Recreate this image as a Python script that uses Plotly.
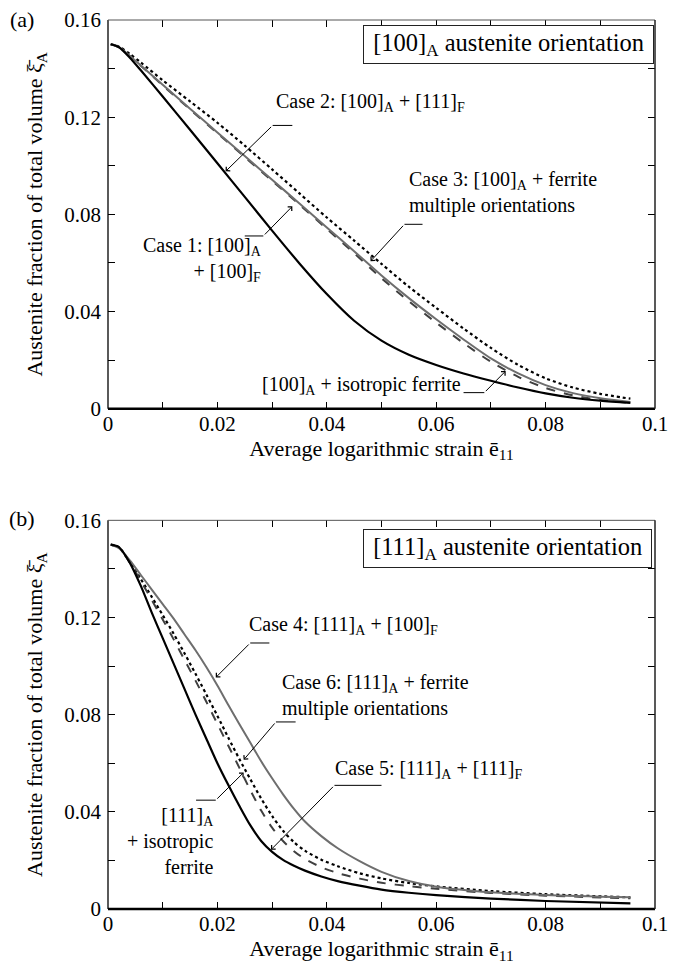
import plotly.graph_objects as go

# ---------------- data : panel (a) [100]A austenite ----------------
xa = [0.0005, 0.002, 0.004, 0.006, 0.01, 0.015, 0.02, 0.025, 0.03, 0.035, 0.04, 0.045,
      0.05, 0.055, 0.06, 0.065, 0.07, 0.075, 0.08, 0.085, 0.09, 0.0955]
a_case2 = [0.1500, 0.1488, 0.1445, 0.1393, 0.1285, 0.1148, 0.1010, 0.0872, 0.0733, 0.0598, 0.0472, 0.0362,
           0.0280, 0.0222, 0.0180, 0.0145, 0.0115, 0.0087, 0.0063, 0.0045, 0.0033, 0.0024]
a_case1 = [0.1500, 0.1488, 0.1452, 0.1413, 0.1333, 0.1235, 0.1137, 0.1040, 0.0942, 0.0845, 0.0746, 0.0648,
           0.0548, 0.0455, 0.0368, 0.0285, 0.0207, 0.0145, 0.0097, 0.0064, 0.0043, 0.0028]
a_iso = [0.1500, 0.1488, 0.1452, 0.1412, 0.1331, 0.1232, 0.1134, 0.1036, 0.0938, 0.0840, 0.0740, 0.0640,
         0.0537, 0.0442, 0.0354, 0.0270, 0.0193, 0.0131, 0.0085, 0.0055, 0.0036, 0.0024]
a_case3 = [0.1500, 0.1490, 0.1460, 0.1425, 0.1352, 0.1265, 0.1177, 0.1083, 0.0985, 0.0886, 0.0787, 0.0692,
           0.0596, 0.0502, 0.0415, 0.0330, 0.0250, 0.0180, 0.0125, 0.0087, 0.0061, 0.0041]

# ---------------- data : panel (b) [111]A austenite ----------------
xb = [0.0005, 0.002, 0.004, 0.006, 0.008, 0.010, 0.012, 0.014, 0.016, 0.018, 0.020, 0.022,
      0.024, 0.026, 0.028, 0.030, 0.032, 0.034, 0.036, 0.039, 0.042, 0.046, 0.050, 0.055,
      0.060, 0.070, 0.080, 0.0955]
b_case5 = [0.1500, 0.1490, 0.1425, 0.1330, 0.1220, 0.1115, 0.1010, 0.0905, 0.0800, 0.0700, 0.0600, 0.0510,
           0.0425, 0.0345, 0.0280, 0.0235, 0.0202, 0.0178, 0.0158, 0.0134, 0.0115, 0.0096, 0.0080, 0.0067,
           0.0057, 0.0043, 0.0033, 0.0023]
b_case4 = [0.1500, 0.1485, 0.1435, 0.1375, 0.1315, 0.1255, 0.1195, 0.1130, 0.1065, 0.0995, 0.0920, 0.0840,
           0.0762, 0.0685, 0.0608, 0.0538, 0.0472, 0.0412, 0.0360, 0.0300, 0.0250, 0.0197, 0.0153, 0.0115,
           0.0092, 0.0069, 0.0058, 0.0048]
b_iso = [0.1500, 0.1488, 0.1425, 0.1350, 0.1272, 0.1192, 0.1110, 0.1025, 0.0940, 0.0852, 0.0762, 0.0672,
         0.0582, 0.0490, 0.0405, 0.0335, 0.0280, 0.0238, 0.0206, 0.0172, 0.0148, 0.0125, 0.0108, 0.0094,
         0.0083, 0.0066, 0.0055, 0.0044]
b_case6 = [0.1500, 0.1488, 0.1428, 0.1358, 0.1285, 0.1210, 0.1133, 0.1052, 0.0968, 0.0882, 0.0795, 0.0705,
           0.0618, 0.0535, 0.0455, 0.0383, 0.0322, 0.0275, 0.0240, 0.0203, 0.0176, 0.0147, 0.0126, 0.0107,
           0.0093, 0.0074, 0.0061, 0.0048]

x_major = [0, 0.02, 0.04, 0.06, 0.08, 0.1]
x_labels = ["0", "0.02", "0.04", "0.06", "0.08", "0.1"]
x_minor = [0.01, 0.03, 0.05, 0.07, 0.09]
y_major = [0, 0.04, 0.08, 0.12, 0.16]
y_labels = ["0", "0.04", "0.08", "0.12", "0.16"]
y_minor = [0.02, 0.06, 0.10, 0.14]

FONT = "Liberation Serif, DejaVu Serif, serif"
GRAY = "#6e6e6e"
DGRAY = "#404040"

fig = go.Figure()

def add_line(x, y, xa_, ya_, color, width, dash):
    fig.add_trace(go.Scatter(x=x, y=y, xaxis=xa_, yaxis=ya_, mode="lines",
                             line=dict(color=color, width=width, dash=dash, shape="spline", smoothing=0.8),
                             showlegend=False, hoverinfo="skip"))

# panel (a)
add_line(xa, a_case3, "x", "y", "black", 2.2, "dot")
add_line(xa, a_iso, "x", "y", DGRAY, 2, "dash")
add_line(xa, a_case1, "x", "y", GRAY, 2, "solid")
add_line(xa, a_case2, "x", "y", "black", 2.2, "solid")
# panel (b)
add_line(xb, b_case6, "x2", "y2", "black", 2.2, "dot")
add_line(xb, b_iso, "x2", "y2", DGRAY, 2, "dash")
add_line(xb, b_case4, "x2", "y2", GRAY, 2, "solid")
add_line(xb, b_case5, "x2", "y2", "black", 2.2, "solid")

xtitle = "Average logarithmic strain ē<sub>11</sub>"
ytitle = "Austenite fraction of total volume ξ̄<sub>A</sub>"

common_x = dict(range=[0, 0.1], tickvals=x_major, ticktext=x_labels,
                ticks="inside", ticklen=7, tickwidth=1, tickcolor="black",
                minor=dict(tickvals=x_minor, ticks="inside", ticklen=7, tickwidth=1, tickcolor="black"),
                mirror="ticks", showline=False, showgrid=False, zeroline=False,
                tickfont=dict(family=FONT, size=21, color="black"),
                ticklabelstandoff=0, ticklabeloverflow="allow",
                title=dict(text=xtitle, font=dict(family=FONT, size=22, color="black"), standoff=1))
common_y = dict(range=[0, 0.16], tickvals=y_major, ticktext=y_labels,
                ticks="inside", ticklen=7, tickwidth=1, tickcolor="black",
                minor=dict(tickvals=y_minor, ticks="inside", ticklen=7, tickwidth=1, tickcolor="black"),
                mirror="ticks", showline=False, showgrid=False, zeroline=False,
                tickfont=dict(family=FONT, size=21, color="black"),
                ticklabelstandoff=6, ticklabeloverflow="allow",
                title=dict(text=ytitle, font=dict(family=FONT, size=22, color="black"), standoff=15))

fig.update_layout(
    width=676, height=979,
    margin=dict(l=108, r=8, t=10, b=70),
    paper_bgcolor="white", plot_bgcolor="white",
    font=dict(family=FONT, color="black"),
    xaxis=dict(domain=[0, 1], anchor="y", **common_x),
    yaxis=dict(domain=[0.5628, 1], anchor="x", **common_y),
    xaxis2=dict(domain=[0, 1], anchor="y2", **common_x),
    yaxis2=dict(domain=[0, 0.4372], anchor="x2", **common_y),
)

# frame lines
for xr, yr in (("x domain", "y domain"), ("x2 domain", "y2 domain")):
    fig.add_shape(type="line", xref=xr, yref=yr, x0=0, x1=1, y0=0, y1=0, line=dict(color="black", width=2.5))
    fig.add_shape(type="line", xref=xr, yref=yr, x0=0, x1=0, y0=0, y1=1, line=dict(color="black", width=1.3))
    fig.add_shape(type="line", xref=xr, yref=yr, x0=0, x1=1, y0=1, y1=1, line=dict(color="#555555", width=1))
    fig.add_shape(type="line", xref=xr, yref=yr, x0=1, x1=1, y0=0, y1=1, line=dict(color="#222222", width=1.5))


def label(text, x, y, xr, yr, xanchor="left", size=20, align="left", **kw):
    fig.add_annotation(text=text, x=x, y=y, xref=xr, yref=yr, xanchor=xanchor, yanchor="middle",
                       showarrow=False, align=align, font=dict(family=FONT, size=size, color="black"), **kw)


def leader(hx0, hx1, hy, tipx, tipy, xr, yr, startx):
    fig.add_shape(type="line", xref=xr, yref=yr, x0=hx0, x1=hx1, y0=hy, y1=hy,
                  line=dict(color="black", width=1))
    fig.add_annotation(x=tipx, y=tipy, ax=startx, ay=hy, xref=xr, yref=yr, axref=xr, ayref=yr,
                       text="", showarrow=True, arrowhead=4, arrowsize=1.1, arrowwidth=1,
                       arrowcolor="black", standoff=0)

BOX = dict(bordercolor="#222222", borderwidth=1, borderpad=3, bgcolor="white")

# ---- panel (a) annotations ----
label("&nbsp;[100]<sub>A</sub> austenite orientation&nbsp;", 0.0732, 0.1500, "x", "y", xanchor="center",
      size=24.5, **BOX)
label("Case 2: [100]<sub>A</sub> + [111]<sub>F</sub>", 0.0303, 0.1262, "x", "y")
leader(0.0301, 0.0337, 0.1166, 0.0215, 0.0977, "x", "y", 0.0301)
label("Case 1: [100]<sub>A</sub><br>+ [100]<sub>F</sub>", 0.0286, 0.0614, "x", "y", xanchor="right", align="right")
leader(0.0250, 0.0284, 0.0711, 0.0337, 0.0833, "x", "y", 0.0284)
label("Case 3: [100]<sub>A</sub> + ferrite<br>multiple orientations", 0.0547, 0.0888, "x", "y")
leader(0.0542, 0.0575, 0.0759, 0.0480, 0.0607, "x", "y", 0.0542)
label("[100]<sub>A</sub> + isotropic ferrite", 0.0277, 0.0095, "x", "y")
leader(0.0650, 0.0688, 0.0066, 0.0727, 0.0155, "x", "y", 0.0688)

# ---- panel (b) annotations ----
label("&nbsp;[111]<sub>A</sub> austenite orientation&nbsp;", 0.0731, 0.1483, "x2", "y2", xanchor="center",
      size=24.5, **BOX)
label("Case 4: [111]<sub>A</sub> + [100]<sub>F</sub>", 0.0255, 0.1166, "x2", "y2")
leader(0.0260, 0.0295, 0.1095, 0.0197, 0.0953, "x2", "y2", 0.0260)
label("Case 6: [111]<sub>A</sub> + ferrite<br>multiple orientations", 0.0314, 0.0878, "x2", "y2")
leader(0.0307, 0.0343, 0.0770, 0.0248, 0.0614, "x2", "y2", 0.0307)
label("[111]<sub>A</sub><br>+ isotropic<br>ferrite", 0.0197, 0.0280, "x2", "y2", xanchor="right", align="right")
leader(0.0161, 0.0197, 0.0448, 0.0248, 0.0562, "x2", "y2", 0.0197)
label("Case 5: [111]<sub>A</sub> + [111]<sub>F</sub>", 0.0412, 0.0574, "x2", "y2")
leader(0.0414, 0.0500, 0.0509, 0.0298, 0.0244, "x2", "y2", 0.0414)

# panel letters
for txt, ypx in (("(a)", 9), ("(b)", 514)):
    fig.add_annotation(text=txt, x=-88 / 560, y=1 - (ypx - 10) / 899,
                       xref="paper", yref="paper", xanchor="center", yanchor="middle",
                       showarrow=False, font=dict(family=FONT, size=22, color="black"))

fig.write_html("out.html")
